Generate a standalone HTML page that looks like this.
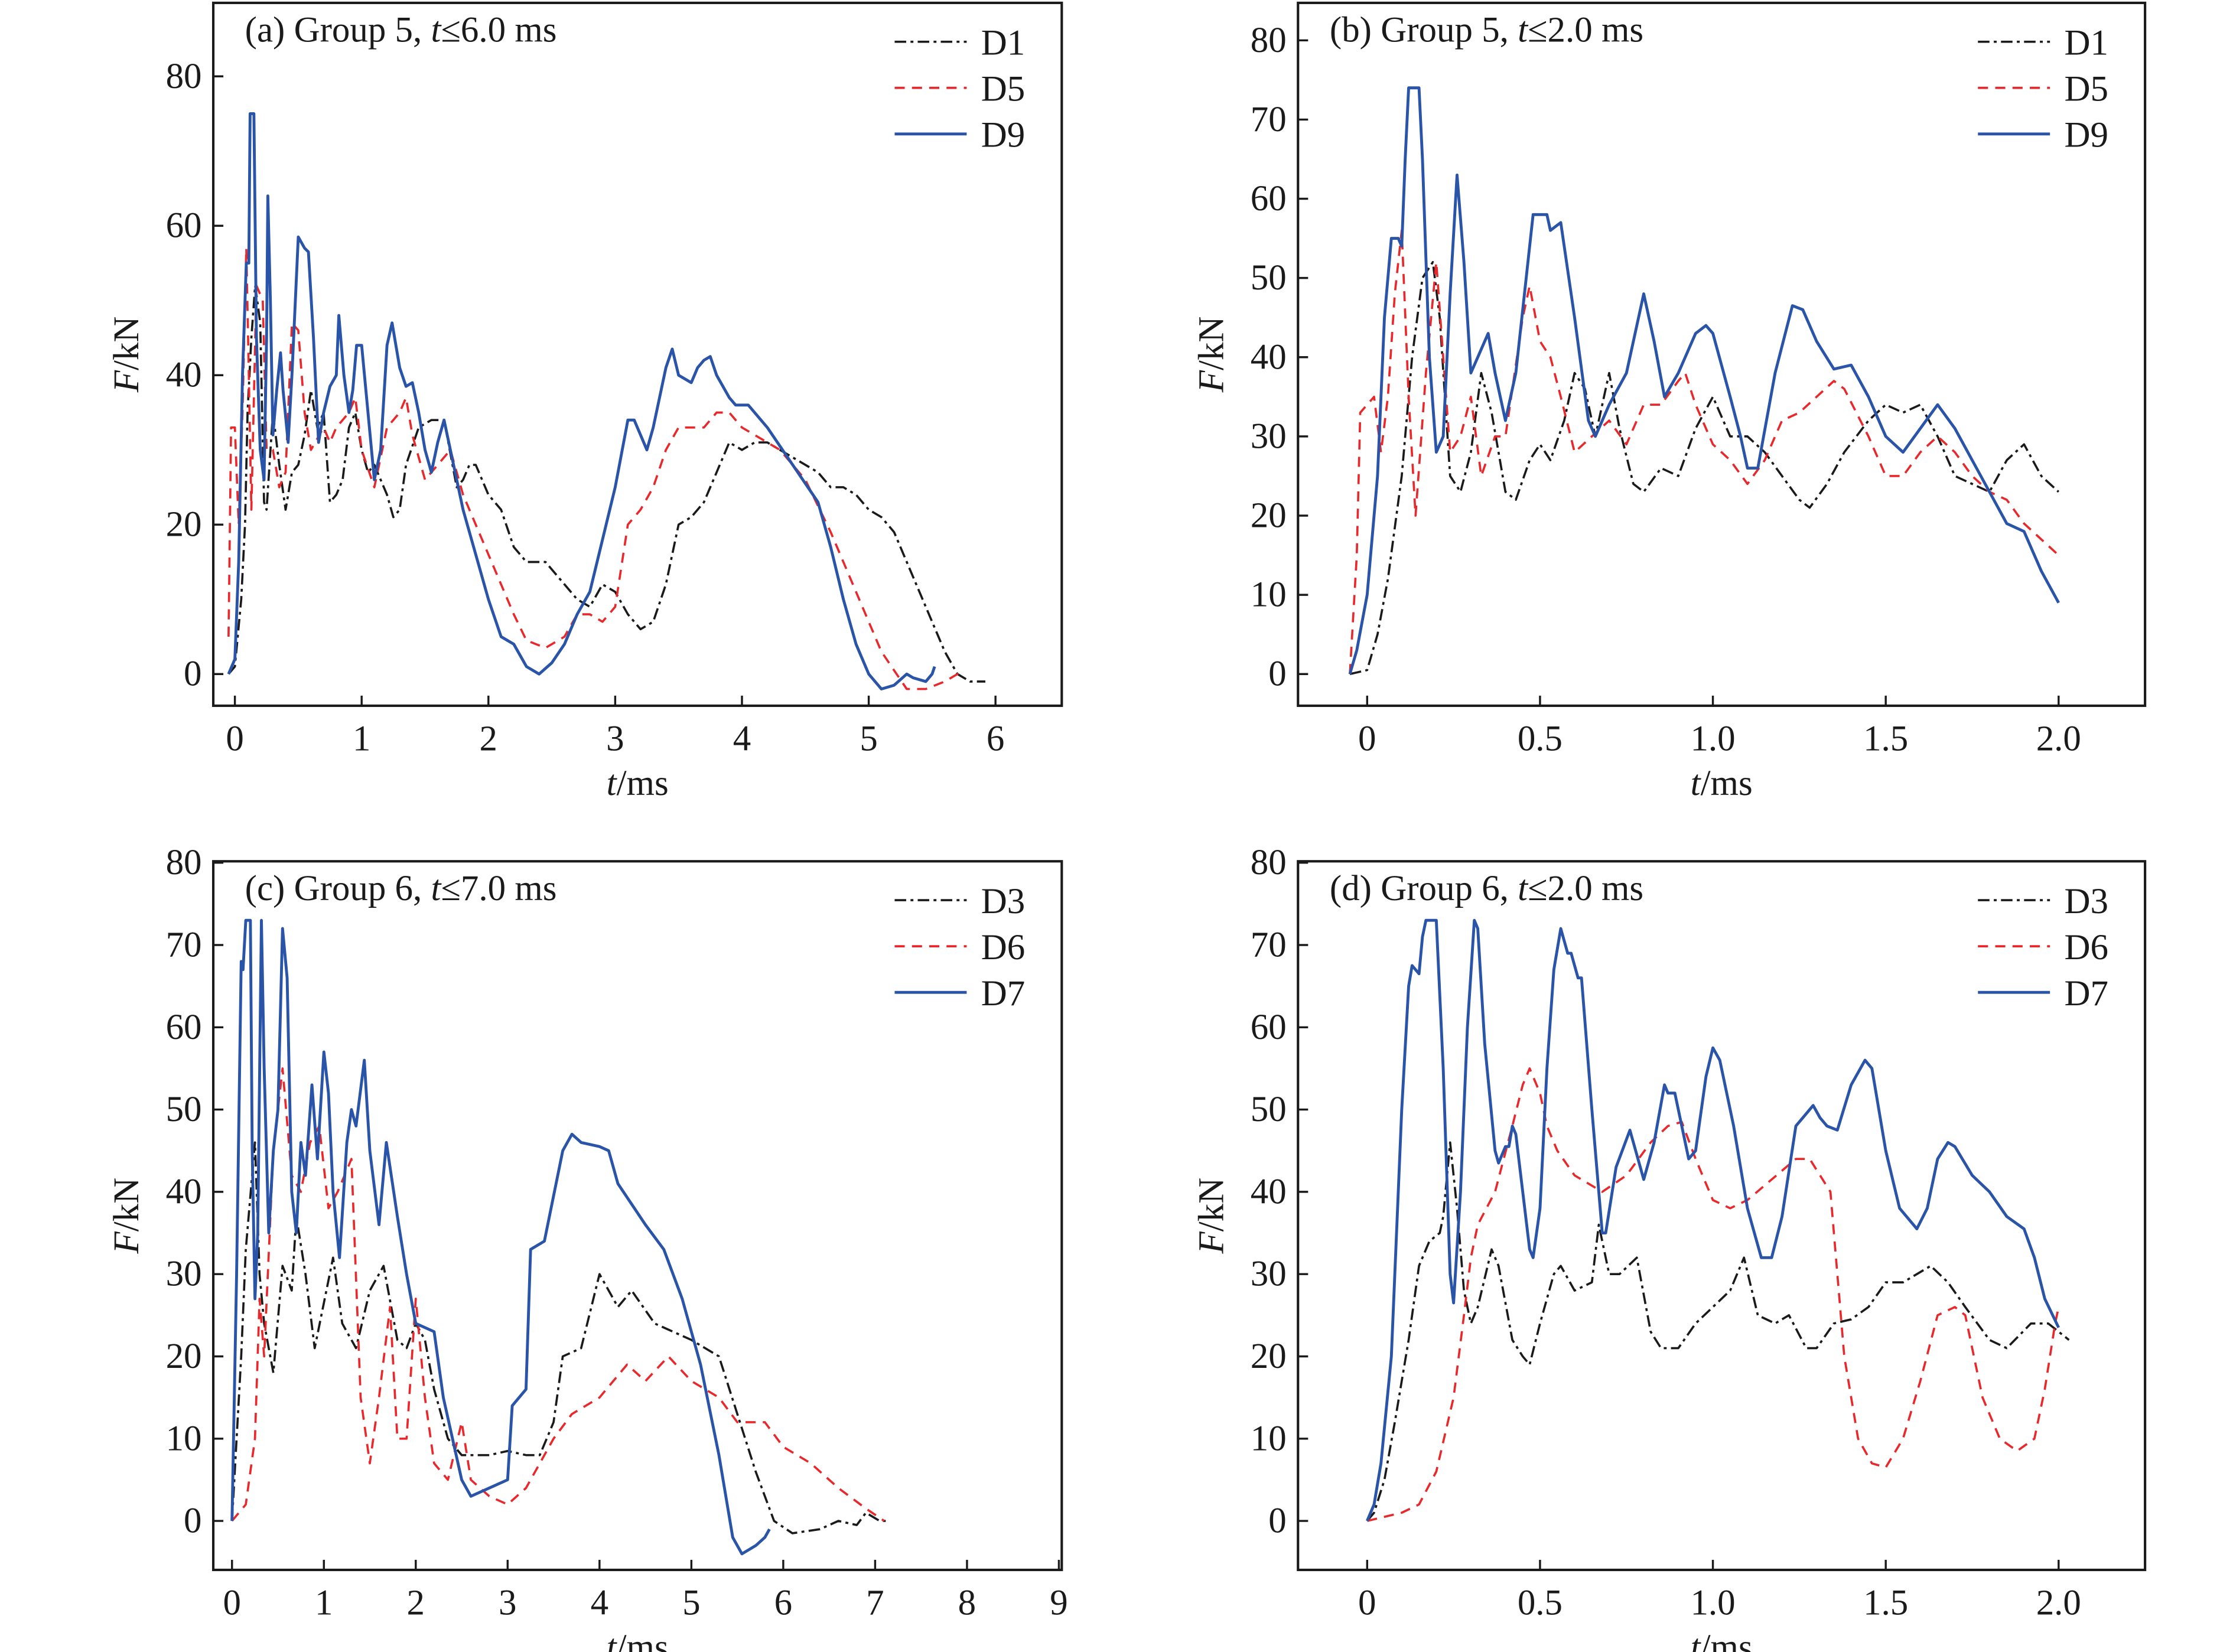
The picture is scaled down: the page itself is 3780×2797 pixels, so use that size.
<!DOCTYPE html>
<html><head><meta charset="utf-8"><style>
html,body{margin:0;padding:0;background:#fff;}
svg{display:block;font-family:"Liberation Serif",serif;}
</style></head><body>
<svg id="chart" width="3780" height="2797" viewBox="0 0 1550 1147" xmlns="http://www.w3.org/2000/svg"></svg>
<script>
// ---- Panel (a) data ----
const aD1 = [[-0.05,0],[0,1],[0.05,10],[0.08,20],[0.1,35],[0.13,45],[0.16,52],[0.2,47],[0.23,23],[0.25,22],[0.3,35],[0.35,28],[0.4,22],[0.45,27],[0.5,28],[0.55,32],[0.6,38],[0.65,33],[0.7,35],[0.75,23],[0.8,24],[0.85,26],[0.9,33],[0.95,35],[1.0,30],[1.05,27],[1.1,28],[1.2,24],[1.25,21],[1.3,22],[1.35,28],[1.45,33],[1.55,34],[1.65,34],[1.75,25],[1.8,26],[1.85,28],[1.9,28],[2.0,24],[2.1,22],[2.2,17],[2.3,15],[2.45,15],[2.55,13],[2.7,10],[2.8,9],[2.9,12],[3.0,11],[3.1,8],[3.2,6],[3.3,7],[3.4,12],[3.5,20],[3.6,21],[3.7,23],[3.8,27],[3.9,31],[4.0,30],[4.1,31],[4.2,31],[4.4,29],[4.6,27],[4.7,25],[4.8,25],[4.9,24],[5.0,22],[5.1,21],[5.2,19],[5.3,15],[5.4,11],[5.5,7],[5.6,3],[5.7,0],[5.8,-1],[5.92,-1]];
const aD5 = [[-0.05,5],[-0.03,33],[0,33],[0.03,20],[0.06,35],[0.09,57],[0.11,40],[0.13,22],[0.17,52],[0.22,50],[0.25,30],[0.3,30],[0.35,25],[0.4,27],[0.45,47],[0.5,46],[0.55,35],[0.6,30],[0.7,33],[0.75,31],[0.8,33],[0.85,34],[0.9,35],[0.95,37],[1.0,30],[1.1,25],[1.2,33],[1.3,35],[1.35,37],[1.4,32],[1.5,26],[1.6,28],[1.7,30],[1.8,24],[1.9,20],[2.0,16],[2.1,12],[2.2,8],[2.3,4.5],[2.45,3.5],[2.6,5],[2.7,8],[2.8,8],[2.9,7],[3.0,9],[3.1,20],[3.2,22],[3.3,25],[3.4,30],[3.5,33],[3.6,33],[3.7,33],[3.8,35],[3.9,35],[4.0,33],[4.1,32],[4.3,30],[4.5,26],[4.7,19],[4.9,11],[5.1,3],[5.3,-2],[5.45,-2],[5.6,-1],[5.75,0.5]];
const aD9 = [[-0.05,0],[0,2],[0.03,15],[0.06,40],[0.09,55],[0.11,55],[0.12,75],[0.15,75],[0.17,45],[0.2,30],[0.23,26],[0.25,45],[0.26,64],[0.28,50],[0.3,32],[0.33,38],[0.36,43],[0.38,38],[0.42,31],[0.45,40],[0.5,58.5],[0.55,57],[0.58,56.5],[0.62,45],[0.66,31],[0.7,35],[0.75,38.5],[0.8,40],[0.82,48],[0.86,40],[0.9,35],[0.93,38],[0.96,44],[1.0,44],[1.05,35],[1.1,26],[1.15,30],[1.2,44],[1.24,47],[1.3,41],[1.35,38.5],[1.4,39],[1.45,35],[1.5,30],[1.55,27],[1.6,31],[1.65,34],[1.7,30],[1.8,22],[1.9,16],[2.0,10],[2.1,5],[2.2,4],[2.3,1],[2.4,0],[2.5,1.5],[2.6,4],[2.7,8],[2.8,11],[2.9,18],[3.0,25],[3.1,34],[3.15,34],[3.2,32],[3.25,30],[3.3,33],[3.4,41],[3.45,43.5],[3.5,40],[3.6,39],[3.65,41],[3.7,42],[3.75,42.5],[3.8,40],[3.9,37],[3.95,36],[4.05,36],[4.2,33],[4.4,28],[4.6,23],[4.7,17],[4.8,10],[4.9,4],[5.0,0],[5.1,-2],[5.2,-1.5],[5.3,0],[5.35,-0.5],[5.45,-1],[5.5,0],[5.52,1]];
// ---- Panel (b) data ----
const bD1 = [[-0.05,0],[0,0.5],[0.03,5],[0.06,12],[0.1,25],[0.13,40],[0.16,50],[0.19,52],[0.21,45],[0.24,25],[0.27,23],[0.3,28],[0.33,38],[0.36,33],[0.4,23],[0.43,22],[0.47,27],[0.5,29],[0.53,27],[0.57,32],[0.6,38],[0.63,36],[0.66,30],[0.7,38],[0.73,31],[0.77,24],[0.8,23],[0.85,26],[0.9,25],[0.95,31],[1.0,35],[1.05,30],[1.1,30],[1.15,28],[1.2,25],[1.25,22],[1.28,21],[1.33,24],[1.38,28],[1.45,32],[1.5,34],[1.55,33],[1.6,34],[1.65,30],[1.7,25],[1.75,24],[1.8,23],[1.85,27],[1.9,29],[1.95,25],[2.0,23]];
const bD5 = [[-0.05,0],[-0.03,15],[-0.02,33],[0,34],[0.02,35],[0.04,28],[0.06,35],[0.08,48],[0.1,56],[0.12,35],[0.14,20],[0.17,38],[0.2,52],[0.22,40],[0.24,28],[0.27,30],[0.3,35],[0.33,25],[0.37,30],[0.4,30],[0.45,45],[0.47,49],[0.5,42],[0.53,40],[0.56,35],[0.6,28],[0.65,30],[0.7,32],[0.75,29],[0.8,34],[0.85,34],[0.9,37],[0.92,38],[0.95,34],[1.0,29],[1.05,27],[1.1,24],[1.15,27],[1.2,32],[1.25,33],[1.3,35],[1.35,37],[1.38,36],[1.45,30],[1.5,25],[1.55,25],[1.6,28],[1.65,30],[1.7,28],[1.75,25],[1.8,23],[1.85,22],[1.9,19],[1.95,17],[2.0,15]];
const bD9 = [[-0.05,0],[-0.03,3],[0,10],[0.03,25],[0.05,45],[0.07,55],[0.09,55],[0.1,54],[0.11,65],[0.12,74],[0.15,74],[0.16,65],[0.18,40],[0.2,28],[0.22,30],[0.24,48],[0.26,63],[0.28,52],[0.3,38],[0.32,40],[0.35,43],[0.37,38],[0.4,32],[0.43,38],[0.46,50],[0.48,58],[0.52,58],[0.53,56],[0.56,57],[0.6,45],[0.64,32],[0.66,30],[0.7,34],[0.75,38],[0.8,48],[0.83,42],[0.86,35],[0.9,38],[0.95,43],[0.98,44],[1.0,43],[1.05,35],[1.08,30],[1.1,26],[1.13,26],[1.18,38],[1.23,46.5],[1.26,46],[1.3,42],[1.35,38.5],[1.4,39],[1.45,35],[1.5,30],[1.55,28],[1.6,31],[1.65,34],[1.7,31],[1.75,27],[1.8,23],[1.85,19],[1.9,18],[1.95,13],[2.0,9]];
// ---- Panel (c) data ----
const cD3 = [[0,0],[0.1,20],[0.15,33],[0.25,46],[0.3,30],[0.35,24],[0.45,18],[0.55,31],[0.65,28],[0.7,37],[0.8,30],[0.9,21],[1.1,32],[1.2,24],[1.35,21],[1.5,28],[1.65,31],[1.8,22],[1.9,21],[2.0,24],[2.1,22],[2.2,16],[2.35,10],[2.5,8],[2.8,8],[3.0,8.5],[3.2,8],[3.35,8],[3.5,12],[3.6,20],[3.8,21],[4.0,30],[4.2,26],[4.35,28],[4.6,24],[4.8,23],[5.0,22],[5.3,20],[5.5,13],[5.7,6],[5.9,0],[6.1,-1.5],[6.4,-1],[6.6,0],[6.8,-0.5],[6.9,1],[7.05,0],[7.15,0]];
const cD6 = [[0,0],[0.15,2],[0.25,10],[0.3,27],[0.35,20],[0.45,45],[0.55,55],[0.65,42],[0.75,40],[0.85,46],[0.95,48],[1.05,38],[1.15,40],[1.3,44],[1.4,15],[1.5,7],[1.6,15],[1.72,26],[1.8,10],[1.9,10],[2.0,27],[2.1,15],[2.2,7],[2.35,5],[2.5,12],[2.6,5],[2.8,3],[3.0,2],[3.2,4],[3.5,10],[3.7,13],[4.0,15],[4.3,19],[4.5,17],[4.75,20],[5.0,17],[5.3,15],[5.5,12],[5.8,12],[6.0,9],[6.3,7],[6.6,4],[6.9,1.5],[7.1,0]];
const cD7 = [[0,0],[0.05,30],[0.1,68],[0.12,67],[0.15,73],[0.2,73],[0.22,45],[0.25,27],[0.28,35],[0.32,73],[0.35,55],[0.4,35],[0.45,45],[0.5,50],[0.55,72],[0.6,66],[0.65,40],[0.7,35],[0.75,46],[0.8,42],[0.87,53],[0.93,44],[1.0,57],[1.05,52],[1.1,40],[1.17,32],[1.25,46],[1.3,50],[1.35,48],[1.44,56],[1.5,45],[1.6,36],[1.68,46],[1.8,37],[1.9,30],[2.0,24],[2.2,23],[2.3,15],[2.5,5],[2.6,3],[2.8,4],[3.0,5],[3.05,14],[3.2,16],[3.25,33],[3.4,34],[3.6,45],[3.7,47],[3.8,46],[4.0,45.5],[4.1,45],[4.2,41],[4.5,36],[4.7,33],[4.9,27],[5.1,19],[5.3,8],[5.45,-2],[5.55,-4],[5.7,-3],[5.8,-2],[5.85,-1]];
// ---- Panel (d) data ----
const dD3 = [[0,0],[0.02,1],[0.05,5],[0.08,12],[0.12,22],[0.15,31],[0.18,34],[0.21,35],[0.22,37],[0.24,46],[0.26,38],[0.28,28],[0.3,24],[0.32,26],[0.36,33],[0.38,31],[0.42,22],[0.45,20],[0.47,19],[0.5,24],[0.54,30],[0.56,31],[0.6,28],[0.65,29],[0.67,36],[0.7,30],[0.73,30],[0.78,32],[0.82,23],[0.85,21],[0.9,21],[0.95,24],[1.0,26],[1.05,28],[1.09,32],[1.13,25],[1.18,24],[1.22,25],[1.27,21],[1.3,21],[1.35,24],[1.4,24.5],[1.45,26],[1.5,29],[1.55,29],[1.63,31],[1.68,29],[1.73,26],[1.8,22],[1.85,21],[1.92,24],[1.97,24],[2.03,22]];
const dD6 = [[0,0],[0.1,1],[0.15,2],[0.2,6],[0.25,15],[0.28,25],[0.3,32],[0.32,36],[0.37,40],[0.42,48],[0.45,53],[0.47,55],[0.5,52],[0.52,48],[0.55,45],[0.6,42],[0.68,40],[0.75,42],[0.82,46],[0.87,48],[0.91,48.5],[0.95,44],[1.0,39],[1.05,38],[1.1,39],[1.17,41.5],[1.24,44],[1.28,44],[1.31,42],[1.34,40],[1.38,20],[1.42,10],[1.46,7],[1.5,6.5],[1.55,10],[1.6,17],[1.65,25],[1.7,26],[1.73,25],[1.78,15],[1.83,10],[1.88,8.5],[1.93,10],[1.96,16],[1.99,24],[2.0,26]];
const dD7 = [[0,0],[0.02,2],[0.04,7],[0.07,20],[0.1,50],[0.12,65],[0.13,67.5],[0.15,66.5],[0.16,71],[0.17,73],[0.2,73],[0.22,55],[0.24,30],[0.25,26.5],[0.27,40],[0.29,60],[0.31,73],[0.32,72],[0.34,58],[0.37,45],[0.38,43.5],[0.4,45.5],[0.41,45.5],[0.42,48],[0.43,47],[0.45,40],[0.47,33],[0.48,32],[0.5,38],[0.52,55],[0.54,67],[0.56,72],[0.58,69],[0.59,69],[0.61,66],[0.62,66],[0.65,50],[0.68,35],[0.69,35],[0.72,43],[0.76,47.5],[0.78,44.5],[0.8,41.5],[0.83,46],[0.86,53],[0.87,52],[0.89,52],[0.92,46],[0.93,44],[0.95,45],[0.98,54],[1.0,57.5],[1.02,56],[1.06,48],[1.1,38],[1.14,32],[1.17,32],[1.2,37],[1.24,48],[1.26,49],[1.29,50.5],[1.31,49],[1.33,48],[1.36,47.5],[1.4,53],[1.44,56],[1.46,55],[1.5,45],[1.54,38],[1.59,35.5],[1.62,38],[1.65,44],[1.68,46],[1.7,45.5],[1.75,42],[1.8,40],[1.85,37],[1.9,35.5],[1.93,32],[1.96,27],[2.0,23.5]];
// tick labels
const xTicksA = ["0","1","2","3","4","5","6"];
const xTicksC = ["0","1","2","3","4","5","6","7","8","9"];
const xTicksB = ["0","0.5","1.0","1.5","2.0"];
const yTicksA = ["0","20","40","60","80"];
const yTicksB = ["0","10","20","30","40","50","60","70","80"];

const NS = "http://www.w3.org/2000/svg";
const svg = document.getElementById('chart');
function mk(tag, attrs, parent){ const e=document.createElementNS(NS,tag); for(const k in attrs) e.setAttribute(k,attrs[k]); (parent||svg).appendChild(e); return e; }

const BLACK="#1a1a1a", RED="#e8282b", BLUE="#2a54a8";
const FS = 25;
const styles = {
  dashdot:{stroke:BLACK,dash:"8,3,2,3",w:1.5},
  dash:{stroke:RED,dash:"7,5",w:1.5},
  solid:{stroke:BLUE,dash:"none",w:2}
};

function panel(cfg){
  const g = mk('g',{});
  
  
  const {L,R,T,B,x0px,x1px,x0,x1,y0px,y1px,y0,y1} = cfg;
  const sx = v => x0px + (v-x0)*(x1px-x0px)/(x1-x0);
  const sy = v => y0px + (v-y0)*(y1px-y0px)/(y1-y0);
  const clipId = 'clip-'+cfg.name;
  const cp = mk('clipPath',{id:clipId},g); mk('rect',{x:L,y:T,width:R-L,height:B-T},cp);
  cfg.series.forEach(s=>{
    const st = styles[s.style];
    const p = mk('path',{d:s.data.map((d,i)=>(i?'L':'M')+sx(d[0]).toFixed(2)+','+sy(d[1]).toFixed(2)).join(''),fill:'none',stroke:st.stroke,'stroke-width':st.w,'stroke-dasharray':st.dash,'stroke-linejoin':'round','clip-path':'url(#'+clipId+')'},g);
    
    
  });
  const fr = mk('rect',{x:L,y:T,width:R-L,height:B-T,fill:'none',stroke:BLACK,'stroke-width':1.7},g);
  
  
  cfg.xt.forEach(lbl=>{
    const v=parseFloat(lbl), x=sx(v);
    mk('line',{x1:x,x2:x,y1:B,y2:B-7,stroke:BLACK,'stroke-width':1.4},g);
    const t=mk('text',{x:x,y:B+31,'text-anchor':'middle','font-size':FS,fill:BLACK},g);
    t.textContent=lbl;
    
    
  });
  cfg.yt.forEach(lbl=>{
    const v=parseFloat(lbl), y=sy(v);
    mk('line',{x1:L,x2:L+7,y1:y,y2:y,stroke:BLACK,'stroke-width':1.4},g);
    const t=mk('text',{x:L-8,y:y+8,'text-anchor':'end','font-size':FS,fill:BLACK},g);
    t.textContent=lbl;
    
    
  });
  const xl=mk('text',{x:(L+R)/2,y:B+62,'text-anchor':'middle','font-size':FS,fill:BLACK},g);
  xl.innerHTML='<tspan font-style="italic">t</tspan>/ms';
  
  
  const ym=(T+B)/2, yx=L-52;
  const yl=mk('text',{x:yx,y:ym,'text-anchor':'middle','font-size':FS,fill:BLACK,transform:'rotate(-90 '+yx+' '+ym+')'},g);
  yl.innerHTML='<tspan font-style="italic">F</tspan>/kN';
  
  
  const tt=mk('text',{x:L+22,y:T+27,'font-size':FS,fill:BLACK},g);
  tt.innerHTML=cfg.title;
  
  
  cfg.series.forEach((s,i)=>{
    const st=styles[s.style], y=T+27+i*32;
    mk('line',{x1:R-116,x2:R-66,y1:y,y2:y,stroke:st.stroke,'stroke-width':st.w,'stroke-dasharray':st.dash},g);
    const t=mk('text',{x:R-56,y:y+9,'font-size':FS,fill:BLACK},g);
    t.textContent=s.label;
    
    
  });
}

panel({name:'panel-a',L:148,R:737,T:2,B:490,x0px:163,x1px:691,x0:0,x1:6,y0px:468,y1px:53,y0:0,y1:80,
  xt:xTicksA,yt:yTicksA,title:'(a) Group 5, <tspan font-style="italic">t</tspan>≤6.0 ms',
  series:[{label:'D1',style:'dashdot',data:aD1},{label:'D5',style:'dash',data:aD5},{label:'D9',style:'solid',data:aD9}]});
panel({name:'panel-b',L:901,R:1489,T:2,B:490,x0px:949,x1px:1429,x0:0,x1:2,y0px:468,y1px:28,y0:0,y1:80,
  xt:xTicksB,yt:yTicksB,title:'(b) Group 5, <tspan font-style="italic">t</tspan>≤2.0 ms',
  series:[{label:'D1',style:'dashdot',data:bD1},{label:'D5',style:'dash',data:bD5},{label:'D9',style:'solid',data:bD9}]});
panel({name:'panel-c',L:148,R:737,T:598,B:1090,x0px:161,x1px:735,x0:0,x1:9,y0px:1056,y1px:599,y0:0,y1:80,
  xt:xTicksC,yt:yTicksB,title:'(c) Group 6, <tspan font-style="italic">t</tspan>≤7.0 ms',
  series:[{label:'D3',style:'dashdot',data:cD3},{label:'D6',style:'dash',data:cD6},{label:'D7',style:'solid',data:cD7}]});
panel({name:'panel-d',L:901,R:1489,T:598,B:1090,x0px:949,x1px:1429,x0:0,x1:2,y0px:1056,y1px:599,y0:0,y1:80,
  xt:xTicksB,yt:yTicksB,title:'(d) Group 6, <tspan font-style="italic">t</tspan>≤2.0 ms',
  series:[{label:'D3',style:'dashdot',data:dD3},{label:'D6',style:'dash',data:dD6},{label:'D7',style:'solid',data:dD7}]});
</script>
</body></html>
